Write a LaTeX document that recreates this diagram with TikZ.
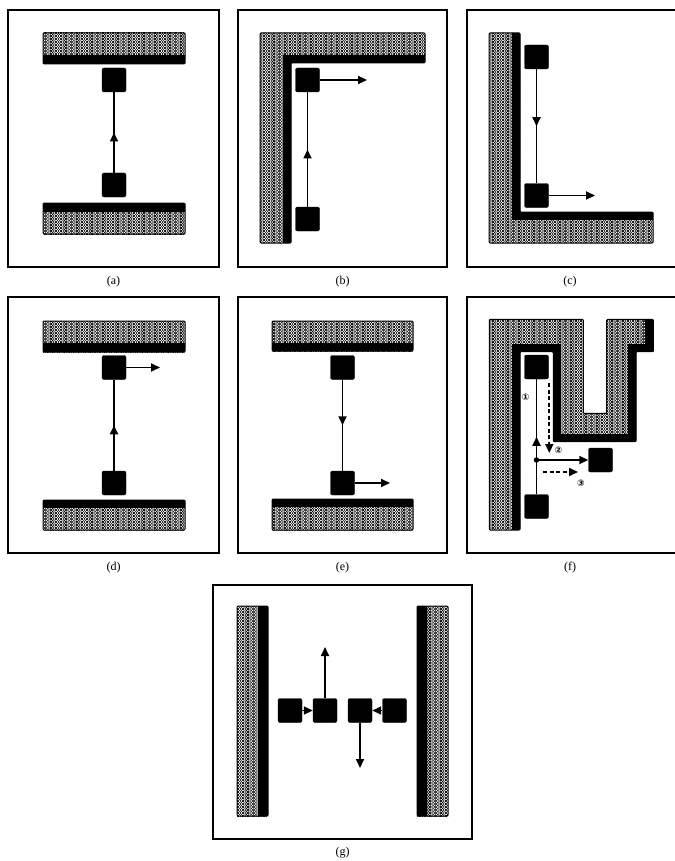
\documentclass[tikz,border=0pt]{standalone}
\usepackage{fontspec}
\setmainfont{Liberation Serif}
\newfontfamily\symfont{DejaVu Sans}
\usetikzlibrary{arrows.meta,decorations.markings,patterns}

% honeycomb-like cell texture used for the walls (cells stacked in columns)
\pgfdeclarepatternformonly{cells}{\pgfqpoint{-0.5pt}{-0.5pt}}{\pgfqpoint{5.7pt}{3.5pt}}{\pgfqpoint{5.2pt}{3pt}}{%
  \pgfsetlinewidth{0.4pt}%
  \pgfpathcircle{\pgfqpoint{1.3pt}{1.5pt}}{1.05pt}%
  \pgfpathcircle{\pgfqpoint{3.9pt}{0pt}}{1.05pt}%
  \pgfpathcircle{\pgfqpoint{3.9pt}{3pt}}{1.05pt}%
  \pgfusepath{stroke}}

\tikzset{
  panel/.style={draw=black, line width=2.4pt},
  robot/.style={rectangle, fill=black, draw=black, minimum size=24pt, inner sep=0pt, rounded corners=2pt},
  tip/.style={-{Triangle[length=9pt,width=8pt]}},
  motion/.style={line width=1.7pt, tip},
  link/.style={line width=1.7pt, postaction={decorate},
    decoration={markings, mark=at position 0.5 with {\arrow{Triangle[length=9pt,width=8pt]}}}},
  plan/.style={line width=1.7pt, dash pattern=on 4pt off 2.5pt, tip},
  texture/.style={pattern=cells},
  rim/.style={draw=black, line width=1pt, rounded corners=1pt},
  lining/.style={line width=16pt, line join=miter},
  caption/.style={font=\fontsize{12}{14}\selectfont},
  tag/.style={font=\symfont\bfseries\fontsize{9}{9}\selectfont, inner sep=0pt},
  joint/.style={circle, fill=black, minimum size=5.5pt, inner sep=0pt},
}

% straight wall: outer box and the black strip facing the robots
\newcommand{\straightwall}[8]{%
  \fill[texture] (#1,#2) rectangle (#3,#4);
  \fill[black] (#5,#6) rectangle (#7,#8);
  \draw[rim] (#1,#2) rectangle (#3,#4);
}

\begin{document}
\begin{tikzpicture}[x=1pt, y=-1pt]
\useasboundingbox (0,0) rectangle (674,861);
\fill[white] (0,0) rectangle (674,861);

% ---------------- (a) ----------------
\draw[panel] (8,10) rectangle (219,267);
\straightwall{43}{33}{185}{64}{43}{55}{185}{64}
\straightwall{43}{203}{185}{234}{43}{203}{185}{212}
\node[robot] (a1) at (114,80) {};
\node[robot] (a2) at (114,185) {};
\draw[link] (a2) -- (a1);
\node[caption] (capa) at (113.5,282) {(a)};

% ---------------- (b) ----------------
\draw[panel] (238,10) rectangle (447,267);
\def\wallb{(260,33) -- (425,33) -- (425,63) -- (291,63) -- (291,243) -- (260,243) -- cycle}
\fill[texture] \wallb;
\begin{scope}
  \clip \wallb;
  \draw[lining] (425,63) -- (291,63) -- (291,243);
\end{scope}
\draw[rim] \wallb;
\node[robot] (b1) at (307.5,80) {};
\node[robot] (b2) at (307.5,219) {};
\coordinate (b1go) at (367,80);
\draw[link] (b2) -- (b1);
\draw[motion] (b1) -- (b1go);
\node[caption] (capb) at (342.5,282) {(b)};

% ---------------- (c) ----------------
\draw[panel] (467,10) rectangle (677,267);
\def\wallc{(489,33) -- (520,33) -- (520,212) -- (653,212) -- (653,243) -- (489,243) -- cycle}
\fill[texture] \wallc;
\begin{scope}
  \clip \wallc;
  \draw[lining] (520,33) -- (520,212) -- (653,212);
\end{scope}
\draw[rim] \wallc;
\node[robot] (c1) at (536.5,57) {};
\node[robot] (c2) at (536.5,195.5) {};
\coordinate (c2go) at (595,195.5);
\draw[link] (c1) -- (c2);
\draw[motion] (c2) -- (c2go);
\node[caption] (capc) at (570,282) {(c)};

% ---------------- (d) ----------------
\draw[panel] (8,297) rectangle (219,553);
\straightwall{43}{321}{185}{352}{43}{343}{185}{352}
\straightwall{43}{500}{185}{530}{43}{500}{185}{508}
\node[robot] (d1) at (114,367.5) {};
\node[robot] (d2) at (114,483) {};
\coordinate (d1go) at (160,367.5);
\draw[link] (d2) -- (d1);
\draw[motion] (d1) -- (d1go);
\node[caption] (capd) at (113.5,568) {(d)};

% ---------------- (e) ----------------
\draw[panel] (238,297) rectangle (447,553);
\straightwall{272}{321}{413}{351}{272}{343}{413}{351}
\straightwall{272}{499}{413}{530}{272}{499}{413}{507}
\node[robot] (e1) at (342.5,367.5) {};
\node[robot] (e2) at (342.5,483) {};
\coordinate (e2go) at (390,483);
\draw[link] (e1) -- (e2);
\draw[motion] (e2) -- (e2go);
\node[caption] (cape) at (342.5,568) {(e)};

% ---------------- (f) ----------------
\draw[panel] (467,297) rectangle (677,553);
\def\wallf{(489.3,319.3) -- (583.3,319.3) -- (583.3,413.3) -- (606.7,413.3) -- (606.7,319.3)
  -- (653.3,319.3) -- (653.3,351.7) -- (636,351.7) -- (636,441.7) -- (553.3,441.7)
  -- (553.3,351.7) -- (520,351.7) -- (520,530) -- (489.3,530) -- cycle}
\fill[texture] \wallf;
\begin{scope}
  \clip \wallf;
  \draw[lining] (653.3,319.3) -- (653.3,351.7) -- (636,351.7) -- (636,441.7)
    -- (553.3,441.7) -- (553.3,351.7) -- (520,351.7) -- (520,530);
\end{scope}
\draw[rim] \wallf;
\node[robot] (f1) at (536.5,367) {};
\node[robot] (f2) at (536.5,506.5) {};
\node[robot] (f3) at (600.5,460) {};
\node[joint] (fj) at (536.5,460) {};
\draw[link] (f2) -- (f1);
\draw[motion] (fj) -- (f3);
\coordinate (p2a) at (549.3,383);
\coordinate (p2b) at (549.3,453);
\coordinate (p3a) at (543,472);
\coordinate (p3b) at (578,472);
\draw[plan] (p2a) -- (p2b);
\draw[plan] (p3a) -- (p3b);
\node[tag] (n1) at (525.7,397) {①};
\node[tag] (n2) at (558.5,450) {②};
\node[tag] (n3) at (581,483) {③};
\node[caption] (capf) at (570,568) {(f)};

% ---------------- (g) ----------------
\draw[panel] (213,585) rectangle (472,839);
\straightwall{237}{606}{268}{816}{258}{606}{268}{816}
\straightwall{417}{606}{448}{816}{417}{606}{427}{816}
\node[robot] (g1) at (290,710.5) {};
\node[robot] (g2) at (325,710.5) {};
\node[robot] (g3) at (360,710.5) {};
\node[robot] (g4) at (394.5,710.5) {};
\coordinate (g2go) at (325,647);
\coordinate (g3go) at (360,768);
\draw[motion] (g1) -- (g2);
\draw[motion] (g4) -- (g3);
\draw[motion] (g2) -- (g2go);
\draw[motion] (g3) -- (g3go);
\node[caption] (capg) at (342.5,853) {(g)};

\end{tikzpicture}
\end{document}
